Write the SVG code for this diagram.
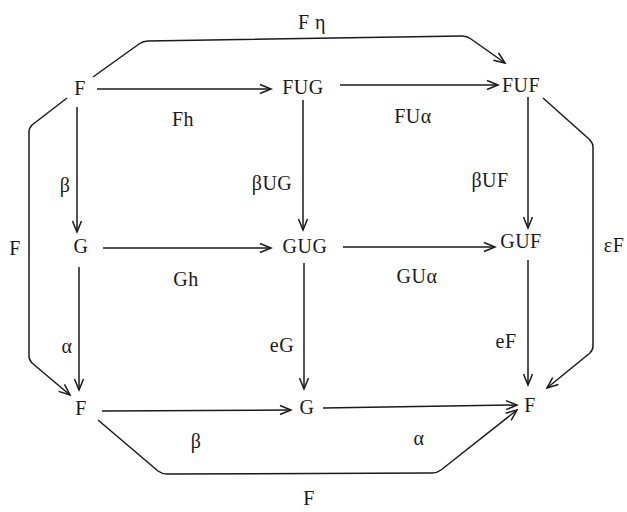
<svg xmlns="http://www.w3.org/2000/svg" width="627" height="512" viewBox="0 0 627 512">
<style>
text{font-family:"Liberation Serif","DejaVu Serif",serif;font-size:20px;fill:#1a1a1a;text-anchor:middle;letter-spacing:0.5px}
.e{fill:none;stroke:#1a1a1a;stroke-width:1.5;stroke-linejoin:round;marker-end:url(#a)}
</style>
<defs>
<marker id="a" markerWidth="14" markerHeight="12" refX="12" refY="6" orient="auto" markerUnits="userSpaceOnUse">
<path d="M1,1.5 L12,6 L1,10.5" fill="none" stroke="#1a1a1a" stroke-width="1.5"/>
</marker>
</defs>
<rect width="627" height="512" fill="#fff"/>
<g id="connectors">
<path class="e" d="M97,89 L271,89"/>
<path class="e" d="M340,85 L498,85"/>
<path class="e" d="M77,107 L77,232"/>
<path class="e" d="M303,100 L303,230"/>
<path class="e" d="M528,97 L528,228"/>
<path class="e" d="M103,248 L271,248"/>
<path class="e" d="M343,247 L495,247"/>
<path class="e" d="M79,267 L79,390"/>
<path class="e" d="M304,263 L304,389"/>
<path class="e" d="M528,260 L528,385"/>
<path class="e" d="M102,411 L291,410"/>
<path class="e" d="M323,408 L517,405"/>
<path class="e" d="M93,77 L139,44 Q143,41 148,41 L462,36 Q467,36 471,39 L505,63"/>
<path class="e" d="M67,98 L32,125 Q29,128 29,132 L29,356 Q29,360 32,363 L70,395"/>
<path class="e" d="M543,98 L589,139 Q593,143 593,147 L593,346 Q593,350 590,353 L547,388"/>
<path class="e" d="M98,420 L158,471 Q162,474 167,474 L432,473 Q437,473 441,470 L517,410"/>
</g>
<g id="n-F1"><text x="80" y="95">F</text></g>
<g id="n-FUG"><text x="303" y="94">FUG</text></g>
<g id="n-FUF"><text x="521" y="92">FUF</text></g>
<g id="n-G1"><text x="81" y="253">G</text></g>
<g id="n-GUG"><text x="305" y="253">GUG</text></g>
<g id="n-GUF"><text x="521" y="248">GUF</text></g>
<g id="n-F2"><text x="81" y="415">F</text></g>
<g id="n-G2"><text x="307" y="414">G</text></g>
<g id="n-F3"><text x="530" y="412">F</text></g>
<g id="labels">
<text x="312" y="29">F η</text>
<text x="183" y="126">Fh</text>
<text x="413" y="123">FUα</text>
<text x="65" y="192">β</text>
<text x="272" y="190">βUG</text>
<text x="490" y="187">βUF</text>
<text x="15" y="255">F</text>
<text x="614" y="252">εF</text>
<text x="186" y="286">Gh</text>
<text x="417" y="283">GUα</text>
<text x="67" y="353">α</text>
<text x="282" y="352">eG</text>
<text x="506" y="348">eF</text>
<text x="196" y="448">β</text>
<text x="419" y="445">α</text>
<text x="309" y="505">F</text>
</g>
</svg>
